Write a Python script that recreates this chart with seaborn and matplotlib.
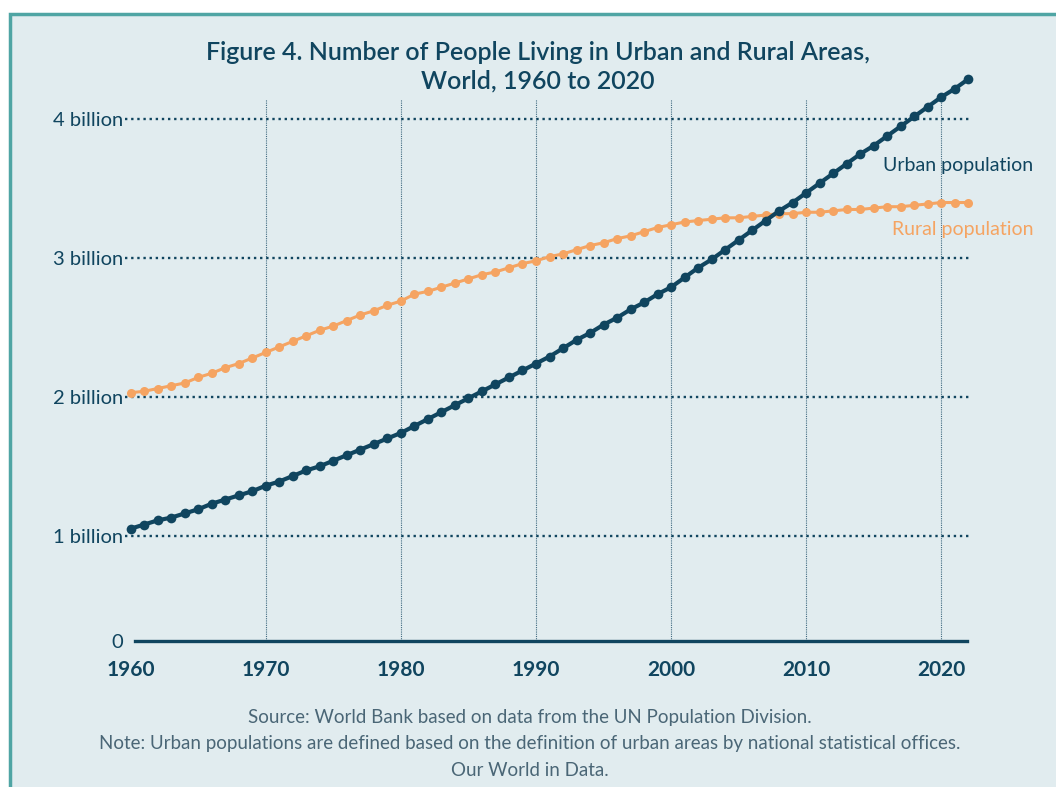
import numpy as np
import pandas as pd
import matplotlib.pyplot as plt
import seaborn as sns
from matplotlib.patches import Rectangle

# yearly values, billions of people
years = list(range(1960, 2023))
urban = [1.05, 1.08, 1.11, 1.13, 1.16, 1.19, 1.23, 1.26, 1.29, 1.32,
         1.36, 1.39, 1.43, 1.47, 1.50, 1.54, 1.58, 1.62, 1.66, 1.70,
         1.74, 1.79, 1.84, 1.89, 1.94, 1.99, 2.04, 2.09, 2.14, 2.19,
         2.24, 2.29, 2.35, 2.41, 2.46, 2.52, 2.57, 2.63, 2.68, 2.74,
         2.79, 2.86, 2.93, 2.99, 3.06, 3.13, 3.20, 3.27, 3.34, 3.40,
         3.47, 3.54, 3.61, 3.68, 3.75, 3.81, 3.88, 3.95, 4.02, 4.09,
         4.16, 4.22, 4.29]
rural = [2.03, 2.04, 2.06, 2.08, 2.10, 2.14, 2.17, 2.21, 2.24, 2.28,
         2.32, 2.36, 2.40, 2.44, 2.48, 2.51, 2.55, 2.59, 2.62, 2.66,
         2.69, 2.74, 2.76, 2.79, 2.82, 2.85, 2.88, 2.90, 2.93, 2.96,
         2.98, 3.01, 3.03, 3.06, 3.09, 3.11, 3.14, 3.16, 3.19, 3.22,
         3.24, 3.26, 3.27, 3.28, 3.29, 3.29, 3.30, 3.31, 3.32, 3.32,
         3.33, 3.33, 3.34, 3.35, 3.35, 3.36, 3.37, 3.37, 3.38, 3.39,
         3.40, 3.40, 3.40]
decades = [1960, 1970, 1980, 1990, 2000, 2010, 2020]
ytick_vals = [0.243, 1, 2, 3, 4]
ytick_labels = ['0', '1 billion', '2 billion', '3 billion', '4 billion']

df = pd.DataFrame({'year': years, 'urban': urban, 'rural': rural})

NAVY = '#10455f'
ORANGE = '#f5a462'
BG = '#e1ecef'
BORDER = '#4fa5a4'
GREY = '#4a6676'

sns.set_style('white')
plt.rcParams['font.family'] = ['Lato', 'DejaVu Sans']

fig = plt.figure(figsize=(10.56, 7.87), dpi=100)
fig.patch.set_facecolor('white')
fig.patches.append(Rectangle((10 / 1056, -0.05), 1.2, 1 - 14 / 787 + 0.05,
                             transform=fig.transFigure, facecolor=BG,
                             edgecolor=BORDER, linewidth=2.5, zorder=-10))

ax = fig.add_axes([125 / 1056, 1 - 640.7 / 787, 847 / 1056, 541.7 / 787])
ax.set_facecolor('none')
ax.set_zorder(2)

ax.set_xlim(1959.58, 2022.27)
ax.set_ylim(0.243, 4.146)

# grid
ax.vlines(decades[1:], 0.243, 4.146, colors='#3f6a80', linestyles=(0, (1, 1)),
          linewidth=0.8, zorder=1)
for v in ytick_vals[1:]:
    ax.axhline(v, color=NAVY, linestyle=(0, (1, 1.6)), linewidth=1.7, zorder=1)

sns.lineplot(data=df, x='year', y='rural', color=ORANGE, linewidth=2.2,
             marker='o', markersize=6.5, markeredgewidth=0, clip_on=False,
             ax=ax, zorder=3)
sns.lineplot(data=df, x='year', y='urban', color=NAVY, linewidth=3,
             marker='o', markersize=7, markeredgewidth=0, clip_on=False,
             ax=ax, zorder=4)

for s in ['left', 'right', 'top']:
    ax.spines[s].set_visible(False)
ax.spines['bottom'].set_color(NAVY)
ax.spines['bottom'].set_linewidth(2.4)
ax.spines['bottom'].set_bounds(1960.3, 2021.9)

ax.set_xticks(decades)
ax.set_xticklabels([str(d) for d in decades], fontsize=15, fontweight='bold', color=NAVY)
ax.set_yticks(ytick_vals)
ax.set_yticklabels(ytick_labels, fontsize=14.5, color=NAVY)
ax.tick_params(axis='both', length=0)
ax.tick_params(axis='x', pad=14)
ax.tick_params(axis='y', pad=1)
ax.set_xlabel('')
ax.set_ylabel('')

fig.text(1033 / 1056, 1 - 165 / 787, 'Urban population', ha='right', va='center',
         fontsize=14, color=NAVY)
fig.text(1033 / 1056, 1 - 230 / 787, 'Rural population', ha='right', va='center',
         fontsize=14, color=ORANGE)

fig.text(538 / 1056, 1 - 67 / 787,
         'Figure 4. Number of People Living in Urban and Rural Areas,\nWorld, 1960 to 2020',
         ha='center', va='center', fontsize=18, fontweight='semibold', color=NAVY,
         linespacing=1.3)

foot = ['Source: World Bank based on data from the UN Population Division.',
        'Note: Urban populations are defined based on the definition of urban areas by national statistical offices.',
        'Our World in Data.']
for txt, ypx in zip(foot, [717, 744, 771]):
    fig.text(530 / 1056, 1 - ypx / 787, txt, ha='center', va='center',
             fontsize=13.5, color=GREY)

fig.savefig('out.png', dpi=100, facecolor=fig.get_facecolor())
